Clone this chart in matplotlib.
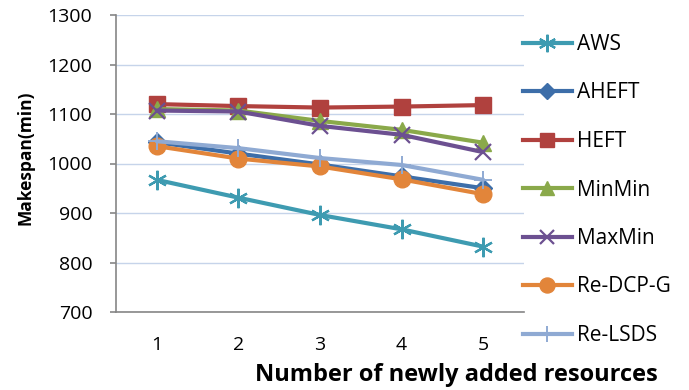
import matplotlib
matplotlib.use("Agg")
import matplotlib.pyplot as plt
from matplotlib.lines import Line2D

plt.rcParams['font.family'] = ['Open Sans', 'DejaVu Sans']

resources = [1, 2, 3, 4, 5]
aws = [967, 931, 896, 867, 832]
aheft = [1043, 1020, 998, 974, 950]
heft = [1120, 1116, 1113, 1115, 1118]
minmin = [1110, 1107, 1086, 1068, 1042]
maxmin = [1107, 1105, 1076, 1058, 1023]
re_dcp_g = [1035, 1010, 994, 968, 938]
re_lsds = [1045, 1031, 1011, 997, 967]

series = [
    ("AWS", aws, "#3E9BB1", (6, 2, 0), 14, 1.6),
    ("AHEFT", aheft, "#3D6EA9", "D", 9, 1.0),
    ("HEFT", heft, "#B0413E", "s", 11, 1.0),
    ("MinMin", minmin, "#8AA94A", "^", 11, 1.0),
    ("MaxMin", maxmin, "#6C5091", "x", 11, 1.6),
    ("Re-DCP-G", re_dcp_g, "#E2853A", "o", 12, 1.0),
    ("Re-LSDS", re_lsds, "#8FAAD3", "+", 13, 1.4),
]

fig = plt.figure(figsize=(6.89, 3.90), dpi=100)
ax = fig.add_axes([116 / 689, 1 - 312 / 390, 408 / 689, 297 / 390])

handles = []
for name, vals, color, mk, ms, mew in series:
    filled = mk not in ("x", "+", (6, 2, 0))
    ax.plot(resources, vals, color=color, lw=3.0, marker=mk, markersize=ms,
            markerfacecolor=color if filled else "none",
            markeredgecolor=color, markeredgewidth=mew, zorder=3,
            solid_joinstyle="round", solid_capstyle="round")
    handles.append(Line2D([], [], color=color, lw=3.0, marker=mk,
                          markersize=ms * 0.9,
                          markerfacecolor=color if filled else "none",
                          markeredgecolor=color, markeredgewidth=mew,
                          label=name))

ax.set_xlim(0.5, 5.5)
ax.set_ylim(700, 1300)
ax.set_xticks(resources)
ax.set_yticks(range(700, 1301, 100))
ax.grid(axis="y", color="#C6D4EA", lw=1.0, zorder=0)
for side in ("top", "right"):
    ax.spines[side].set_visible(False)
for side in ("left", "bottom"):
    ax.spines[side].set_color("#868686")
    ax.spines[side].set_linewidth(1.2)
ax.tick_params(axis="x", length=0, pad=17, labelsize=14)
ax.tick_params(axis="y", length=4, width=1.2, color="#868686", pad=13, labelsize=14)

fig.text(26 / 689, 1 - 158 / 390, "Makespan(min)", rotation=90, ha="center",
         va="center", fontsize=12.5, fontweight="bold")
fig.text(456 / 689, 1 - 375 / 390, "Number of newly added resources",
         ha="center", va="center", fontsize=17, fontweight="bold")

fig.legend(handles=handles, loc="upper left",
           bbox_to_anchor=(523 / 689, 1 - 34 / 390), frameon=False,
           fontsize=15, handlelength=2.35, handletextpad=0.25,
           labelspacing=1.32, borderaxespad=0, borderpad=0)

fig.savefig("out.png", dpi=100)
